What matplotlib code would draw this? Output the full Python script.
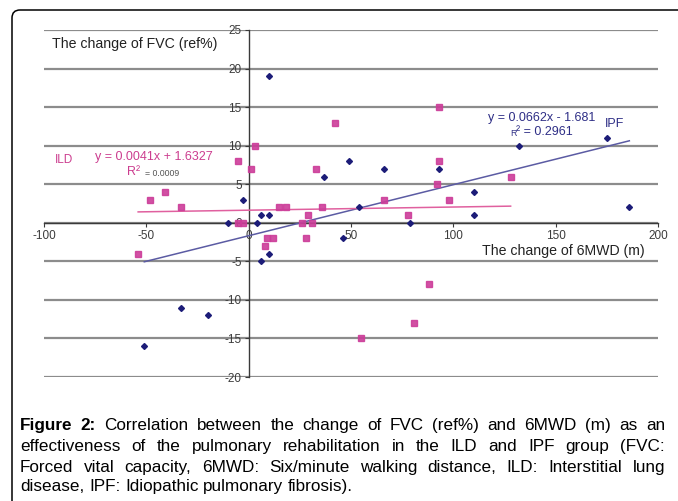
import matplotlib
matplotlib.use("Agg")
import matplotlib.pyplot as plt
from matplotlib.patches import FancyBboxPatch
import numpy as np

# ---------------- data ----------------
ipf_x = [10, 49, 37, -3, 6, 10, -10, 4, 46, 10, 6, -33, -20, -51,
         132, 175, 186, 93, 66, 110, 54, 110, 79]
ipf_y = [19, 8, 6, 3, 1, 1, 0, 0, -2, -4, -5, -11, -12, -16,
         10, 11, 2, 7, 7, 4, 2, 1, 0]

ild_x = [42, 3, -5, 1, 33, -48, -41, -33, 15, 18, 36, 29, -5, -3, 26, 31,
         9, 12, 8, 28, -54, 88, 81, 55, 93, 93, 92, 128, 66, 98, 78]
ild_y = [13, 10, 8, 7, 7, 3, 4, 2, 2, 2, 2, 1, 0, 0, 0, 0,
         -2, -2, -3, -2, -4, -8, -13, -15, 15, 8, 5, 6, 3, 3, 1]

ipf_fit = (0.0662, -1.681)
ild_fit = (0.0041, 1.6327)

x_ticks = [-100, -50, 0, 50, 100, 150, 200]
y_ticks = [-20, -15, -10, -5, 0, 5, 10, 15, 20, 25]

caption = [
    [("Figure", "bold"), ("2:", "bold"), "Correlation", "between", "the", "change", "of", "FVC",
     "(ref%)", "and", "6MWD", "(m)", "as", "an"],
    "effectiveness of the pulmonary rehabilitation in the ILD and IPF group (FVC:".split(),
    "Forced vital capacity, 6MWD: Six/minute walking distance, ILD: Interstitial lung".split(),
    "disease, IPF: Idiopathic pulmonary fibrosis).".split(),
]

# ---------------- figure ----------------
W, H = 678, 501
FONT = "Liberation Sans"
plt.rcParams["font.family"] = [FONT, "DejaVu Sans"]
plt.rcParams["axes.unicode_minus"] = False
fig = plt.figure(figsize=(W / 100, H / 100), dpi=100)
fig.patch.set_facecolor("white")


def P(x, y):
    return (x / W, 1 - y / H)


# border (top + left, rounded corner)
box = FancyBboxPatch((0.12, -0.3), 7.3, 4.91 + 0.3, boxstyle="round,pad=0,rounding_size=0.08",
                     transform=fig.dpi_scale_trans, fill=False, edgecolor="black", lw=1.1)
fig.add_artist(box)

ax = fig.add_axes([44 / W, 124 / H, 614 / W, 347 / H])
ax.set_xlim(-100, 200)
ax.set_ylim(-20, 25)
ax.patch.set_alpha(0)
for s in ["top", "right"]:
    ax.spines[s].set_visible(False)
ax.spines["left"].set_position(("data", 0))
ax.spines["bottom"].set_position(("data", 0))
for s in ["left", "bottom"]:
    ax.spines[s].set_color("#3a3a3a")
    ax.spines[s].set_linewidth(1.0)
ax.set_xticks(x_ticks)
ax.set_yticks(y_ticks)
ax.tick_params(axis="both", labelsize=8.5, labelcolor="#3c3c3c", color="#3a3a3a",
               length=3, width=0.8, direction="out", pad=2)
ax.yaxis.grid(True, color="#8c8c8c", lw=1.6)
ax.set_axisbelow(True)

navy = "#1c1c78"
mag = "#cc3d99"

ax.plot(ild_x, ild_y, "s", color=mag, ms=4.8, mec=mag, alpha=0.9, zorder=4)
ax.plot(ipf_x, ipf_y, "D", color=navy, ms=3.0, zorder=5)

xi = np.array([min(ipf_x), max(ipf_x)])
ax.plot(xi, ipf_fit[0] * xi + ipf_fit[1], color="#5b5ba3", lw=1.1, zorder=3)
xl = np.array([min(ild_x), max(ild_x)])
ax.plot(xl, ild_fit[0] * xl + ild_fit[1], color="#e0609f", lw=1.1, zorder=3)

# annotations
fig.text(*P(52, 44), "The change of FVC (ref%)", fontsize=10.2, va="center", ha="left", color="#222222")
fig.text(*P(482, 251), "The change of 6MWD (m)", fontsize=10.2, va="center", ha="left", color="#222222")

ild_c = "#cc3d8f"
fig.text(*P(55, 160), "ILD", fontsize=8.5, va="center", ha="left", color=ild_c)
fig.text(*P(95, 157), "y = 0.0041x + 1.6327", fontsize=9, va="center", ha="left", color=ild_c)
fig.text(*P(127, 172), "R²", fontsize=9, va="center", ha="left", color=ild_c)
fig.text(*P(145, 173), "= 0.0009", fontsize=6.3, va="center", ha="left", color="#555555")

ipf_c = "#2e2e86"
fig.text(*P(488, 118), "y = 0.0662x - 1.681", fontsize=9, va="center", ha="left", color=ipf_c)
fig.text(*P(510, 133), "R", fontsize=6.4, va="center", ha="left", color=ipf_c)
fig.text(*P(516, 132), "² = 0.2961", fontsize=9, va="center", ha="left", color=ipf_c)
fig.text(*P(605, 124), "IPF", fontsize=9, va="center", ha="left", color=ipf_c)

# caption, justified
renderer = fig.canvas.get_renderer()
cap_fs = 12.3
x0, x1 = 20, 665
baselines = [430, 451, 472, 491]
for li, (words, yb) in enumerate(zip(caption, baselines)):
    objs, widths = [], []
    for w in words:
        if isinstance(w, tuple):
            txt, wt = w
        else:
            txt, wt = w, "normal"
        t = fig.text(0, 0, txt, fontsize=cap_fs, weight=wt, va="baseline", ha="left", color="black")
        widths.append(t.get_window_extent(renderer=renderer).width)
        objs.append(t)
    sp = cap_fs * 100 / 72 * 0.278
    if li < len(caption) - 1:
        gap = (x1 - x0 - sum(widths)) / (len(words) - 1)
    else:
        gap = sp
    x = x0
    for t, w in zip(objs, widths):
        t.set_position(P(x, yb))
        x += w + gap

fig.savefig("out.png", dpi=100, facecolor="white")
